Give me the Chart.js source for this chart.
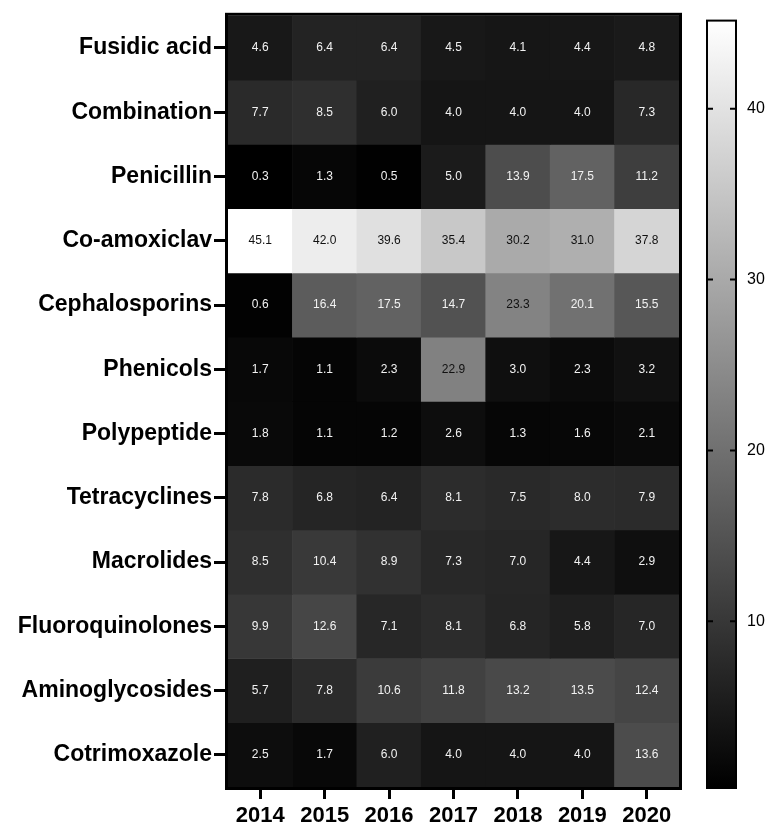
<!DOCTYPE html>
<html><head><meta charset="utf-8">
<script src="https://cdn.jsdelivr.net/npm/chart.js@4.4.0/dist/chart.umd.min.js"></script>
<style>
html,body{margin:0;padding:0;background:#fff;}
#wrap{position:relative;width:766px;height:827px;}
</style></head><body>
<div id="wrap">
<div style="position:absolute;left:0;top:0;width:766px;height:827px"><canvas id="main"></canvas></div>
<div style="position:absolute;left:690px;top:0;width:76px;height:827px"><canvas id="bar"></canvas></div>
</div>
<script>
const years = ['2014','2015','2016','2017','2018','2019','2020'];
const classes = ['Fusidic acid','Combination','Penicillin','Co-amoxiclav','Cephalosporins','Phenicols','Polypeptide','Tetracyclines','Macrolides','Fluoroquinolones','Aminoglycosides','Cotrimoxazole'];
const fusidicAcid      = [4.6, 6.4, 6.4, 4.5, 4.1, 4.4, 4.8];
const combination      = [7.7, 8.5, 6.0, 4.0, 4.0, 4.0, 7.3];
const penicillin       = [0.3, 1.3, 0.5, 5.0, 13.9, 17.5, 11.2];
const coAmoxiclav      = [45.1, 42.0, 39.6, 35.4, 30.2, 31.0, 37.8];
const cephalosporins   = [0.6, 16.4, 17.5, 14.7, 23.3, 20.1, 15.5];
const phenicols        = [1.7, 1.1, 2.3, 22.9, 3.0, 2.3, 3.2];
const polypeptide      = [1.8, 1.1, 1.2, 2.6, 1.3, 1.6, 2.1];
const tetracyclines    = [7.8, 6.8, 6.4, 8.1, 7.5, 8.0, 7.9];
const macrolides       = [8.5, 10.4, 8.9, 7.3, 7.0, 4.4, 2.9];
const fluoroquinolones = [9.9, 12.6, 7.1, 8.1, 6.8, 5.8, 7.0];
const aminoglycosides  = [5.7, 7.8, 10.6, 11.8, 13.2, 13.5, 12.4];
const cotrimoxazole    = [2.5, 1.7, 6.0, 4.0, 4.0, 4.0, 13.6];
const colorbarTicks = [10, 20, 30, 40];

const rows = [fusidicAcid, combination, penicillin, coAmoxiclav, cephalosporins, phenicols, polypeptide, tetracyclines, macrolides, fluoroquinolones, aminoglycosides, cotrimoxazole];
const all = rows.flat();
const vMin = Math.min(...all), vMax = Math.max(...all);
function gray(v){
  const g = Math.round(255 * (v - vMin) / (vMax - vMin));
  return `rgb(${g},${g},${g})`;
}
const FONT = "'Liberation Sans', Arial, Helvetica, sans-serif";

const datasets = rows.map((vals, r) => ({
  label: classes[r],
  values: vals,
  data: vals.map(() => [r, r + 1]),
  backgroundColor: vals.map(gray),
  borderWidth: 0,
  grouped: false,
  categoryPercentage: 1,
  barPercentage: 1
}));

const cellLabels = {
  id: 'cellLabels',
  afterDatasetsDraw(chart){
    const ctx = chart.ctx;
    ctx.save();
    ctx.font = `12px ${FONT}`;
    ctx.textAlign = 'center';
    ctx.textBaseline = 'middle';
    chart.data.datasets.forEach((ds, di) => {
      chart.getDatasetMeta(di).data.forEach((el, i) => {
        const p = el.getCenterPoint();
        const v = ds.values[i];
        ctx.fillStyle = v > 21 ? '#111' : '#f2f2f2';
        ctx.fillText(v.toFixed(1), p.x, p.y);
      });
    });
    ctx.restore();
  }
};
const frame = {
  id: 'frame',
  afterDraw(chart, args, opts){
    const a = chart.chartArea, ctx = chart.ctx, w = opts.width;
    ctx.save();
    ctx.strokeStyle = '#000';
    ctx.lineWidth = w;
    ctx.strokeRect(a.left - w/2, a.top - w/2, a.right - a.left + w, a.bottom - a.top + w);
    ctx.restore();
  }
};

new Chart(document.getElementById('main'), {
  type: 'bar',
  data: { labels: years, datasets },
  plugins: [cellLabels, frame],
  options: {
    responsive: true, maintainAspectRatio: false, animation: false,
    layout: { padding: { top: 13, right: 87, left: 0, bottom: 0 } },
    plugins: { legend: { display: false }, tooltip: { enabled: false }, frame: { width: 3 } },
    scales: {
      x: {
        type: 'category',
        grid: { display: true, drawOnChartArea: false, offset: false, tickLength: 12, tickWidth: 3, tickColor: '#000' },
        border: { display: false },
        ticks: { color: '#000', font: { family: FONT, size: 22, weight: 'bold' }, padding: 4, maxRotation: 0 },
        afterFit(s){ s.height = 40; }
      },
      y: {
        type: 'linear', min: 0, max: 12, reverse: true,
        grid: { display: true, drawOnChartArea: false, tickLength: 14, tickWidth: 3, tickColor: '#000' },
        border: { display: false },
        afterBuildTicks(s){ s.ticks = classes.map((_, i) => ({ value: i + 0.5 })); },
        ticks: {
          color: '#000', font: { family: FONT, size: 23, weight: 'bold' }, padding: 2,
          callback: (v) => classes[Math.round(v - 0.5)]
        },
        afterFit(s){ s.width = 228; }
      }
    }
  }
});

const barTicks = {
  id: 'barTicks',
  afterDraw(chart){
    const a = chart.chartArea, ctx = chart.ctx, ys = chart.scales.y;
    ctx.save();
    ctx.strokeStyle = '#000';
    ctx.lineWidth = 2;
    colorbarTicks.forEach(t => {
      const y = ys.getPixelForValue(t);
      ctx.beginPath();
      ctx.moveTo(a.left, y); ctx.lineTo(a.left + 5, y);
      ctx.moveTo(a.right - 5, y); ctx.lineTo(a.right, y);
      ctx.stroke();
    });
    ctx.restore();
  }
};

new Chart(document.getElementById('bar'), {
  type: 'bar',
  data: {
    labels: [''],
    datasets: [{
      data: [[vMin, vMax]],
      borderWidth: 0,
      categoryPercentage: 1, barPercentage: 1,
      backgroundColor(c){
        const a = c.chart.chartArea;
        if (!a) return '#888';
        const g = c.chart.ctx.createLinearGradient(0, c.chart.scales.y.getPixelForValue(vMin), 0, c.chart.scales.y.getPixelForValue(vMax));
        g.addColorStop(0, '#000');
        g.addColorStop(1, '#fff');
        return g;
      }
    }]
  },
  plugins: [frame, barTicks],
  options: {
    responsive: true, maintainAspectRatio: false, animation: false,
    layout: { padding: { top: 12, right: 0, left: 18, bottom: 40 } },
    plugins: { legend: { display: false }, tooltip: { enabled: false }, frame: { width: 2 } },
    scales: {
      x: { display: false },
      y: {
        type: 'linear', position: 'right', min: vMin, max: vMax,
        grid: { drawOnChartArea: false, drawTicks: false },
        border: { display: false },
        afterBuildTicks(s){ s.ticks = colorbarTicks.map(v => ({ value: v })); },
        ticks: { color: '#000', font: { family: FONT, size: 16 }, padding: 12 },
        afterFit(s){ s.width = 31; }
      }
    }
  }
});
</script>
</body></html>
